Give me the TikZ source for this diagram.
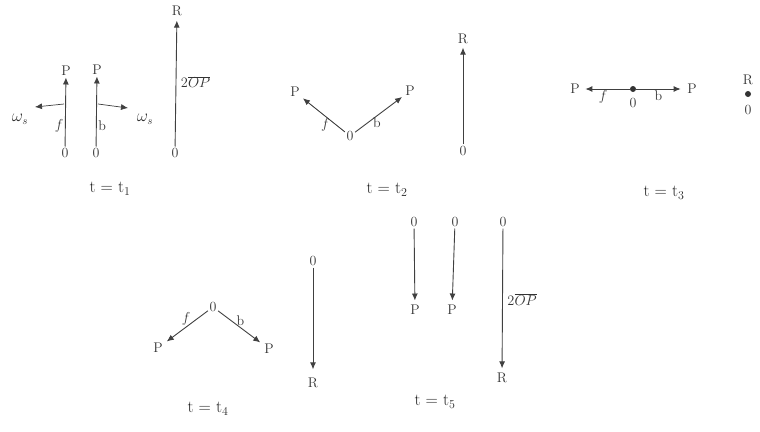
\documentclass[tikz,border=0pt]{standalone}
\usetikzlibrary{arrows.meta}
\begin{document}
\begin{tikzpicture}[x=1pt,y=-1pt,
  lbl/.style={inner sep=1.5pt,font=\fontsize{14}{16}\selectfont,text=black!80},
  captxt/.style={inner sep=1pt,font=\fontsize{17}{19}\selectfont,text=black!85},
  vec/.style={draw=black!75,line width=0.9pt,-{Latex[length=7pt,width=6pt]}},
  dotnode/.style={circle,fill=black!80,inner sep=0pt,minimum size=6pt}]
\useasboundingbox (0,0) rectangle (760,431);
% ---------------- t = t1 ----------------
\node[lbl] (o1a) at (65,153) {0};
\node[lbl] (p1a) at (66,71) {P};
\node[lbl] (o1b) at (96,153) {0};
\node[lbl] (p1b) at (97,70) {P};
\node[lbl] (o1c) at (175,153) {0};
\node[lbl] (r1) at (177,11) {R};
\draw[vec] (o1a) -- node[lbl,left,pos=0.3]{$f$} (p1a);
\draw[vec] (o1b) -- node[lbl,right,pos=0.3]{b} (p1b);
\draw[vec,shorten >=3pt] (o1c) -- node[lbl,right,pos=0.5,xshift=3pt]{$2\overline{OP}$} (r1);
\coordinate (w1s) at (64,104);
\coordinate (w1e) at (35,107);
\coordinate (w2s) at (98,104);
\coordinate (w2e) at (128,108);
\draw[vec,line width=0.7pt] (w1s) -- (w1e);
\draw[vec,line width=0.7pt] (w2s) -- (w2e);
\node[lbl,font=\fontsize{16}{18}\selectfont] (ws1) at (20,119) {$\omega_s$};
\node[lbl,font=\fontsize{16}{18}\selectfont] (ws2) at (145,119) {$\omega_s$};
\node[captxt] (c1) at (110,189) {t = t$_1$};
% ---------------- t = t2 ----------------
\node[lbl] (o2) at (350,136) {0};
\node[lbl] (p2l) at (295,92) {P};
\node[lbl] (p2r) at (410,91) {P};
\draw[vec,shorten >=2pt] (o2) -- node[lbl,below,pos=0.45]{$f$} (p2l);
\draw[vec,shorten >=2pt] (o2) -- node[lbl,below,pos=0.45]{b} (p2r);
\node[lbl] (o2c) at (463,151) {0};
\node[lbl] (r2) at (463,39) {R};
\draw[vec,shorten >=2pt] (o2c) -- (r2);
\node[captxt] (c2) at (387,190) {t = t$_2$};
% ---------------- t = t3 ----------------
\node[dotnode] (o3) at (633,89) {};
\node[lbl] (o3l) at (633,103) {0};
\node[lbl] (p3l) at (575,89) {P};
\node[lbl] (p3r) at (692,89) {P};
\draw[vec,shorten >=4pt] (o3) -- node[lbl,below,pos=0.55]{$f$} (p3l);
\draw[vec,shorten >=5pt] (o3) -- node[lbl,below,pos=0.45]{b} (p3r);
\node[dotnode] (r3d) at (748,94) {};
\node[lbl] (r3) at (748,80) {R};
\node[lbl] (o3r) at (748,110) {0};
\node[captxt] (c3) at (664,193) {t = t$_3$};
% ---------------- t = t4 ----------------
\node[lbl] (o4) at (213,307) {0};
\node[lbl] (p4l) at (158,348) {P};
\node[lbl] (p4r) at (269,349) {P};
\draw[vec,shorten >=3pt] (o4) -- node[lbl,above,pos=0.5]{$f$} (p4l);
\draw[vec,shorten >=3pt] (o4) -- node[lbl,above,pos=0.5]{b} (p4r);
\node[lbl] (o4c) at (313,261) {0};
\node[lbl] (r4) at (313,383) {R};
\draw[vec,shorten >=7pt] (o4c) -- (r4);
\node[captxt] (c4) at (208,409) {t = t$_4$};
% ---------------- t = t5 ----------------
\node[lbl] (o5a) at (414,222) {0};
\node[lbl] (p5a) at (415,310) {P};
\node[lbl] (o5b) at (455,222) {0};
\node[lbl] (p5b) at (452,310) {P};
\node[lbl] (o5c) at (503,222) {0};
\node[lbl] (r5) at (502,378) {R};
\draw[vec,shorten >=3pt] (o5a) -- (p5a);
\draw[vec,shorten >=3pt] (o5b) -- (p5b);
\draw[vec,shorten >=3pt] (o5c) -- node[lbl,right,pos=0.5,xshift=3pt]{$2\overline{OP}$} (r5);
\node[captxt] (c5) at (435,402) {t = t$_5$};
\end{tikzpicture}
\end{document}
